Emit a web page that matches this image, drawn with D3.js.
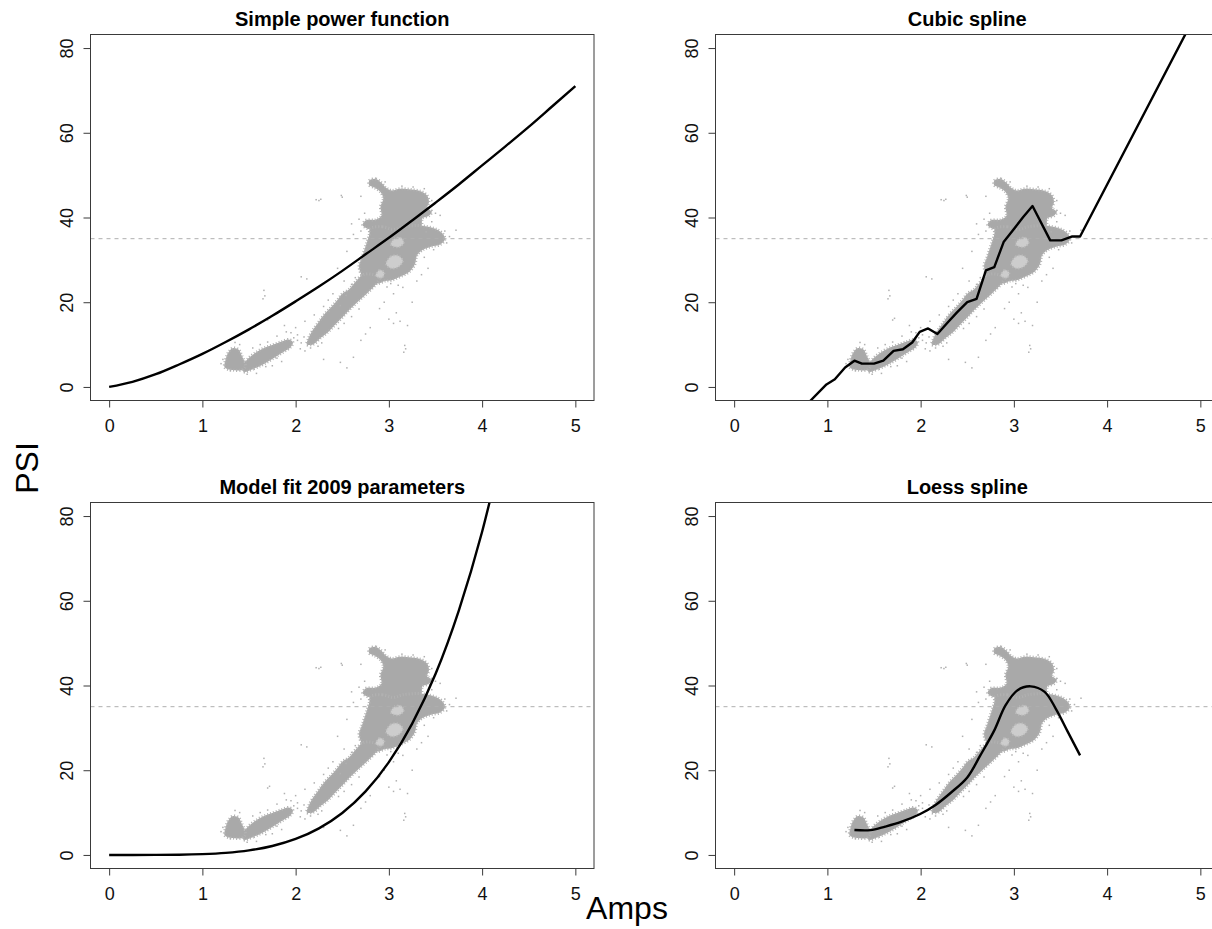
<!DOCTYPE html>
<html><head><meta charset="utf-8">
<script src="https://cdn.jsdelivr.net/npm/d3@7"></script>
<style>
body{margin:0;background:#fff}
svg{display:block}
text{font-family:"Liberation Sans",Arial,Helvetica,sans-serif}
</style>
</head><body>
<svg id="chart" width="1212" height="929"></svg>
<script>
// ---------- data ----------
const panelTitles = ["Simple power function","Cubic spline","Model fit 2009 parameters","Loess spline"];
const xTicks = [0,1,2,3,4,5];
const yTicks = [0,20,40,60,80];
const xLabel = "Amps";
const yLabel = "PSI";
const thresholdPsi = 35;

// fitted curves (Amps, PSI)
const powerAmps = [0,0.25,0.5,0.75,1,1.25,1.5,1.75,2,2.25,2.5,2.75,3,3.25,3.5,3.75,4,4.25,4.5,4.75,5];
const powerPsi  = [0,1.2,3.0,5.3,7.8,10.6,13.6,16.8,20.2,23.7,27.4,31.3,35.2,39.3,43.5,47.8,52.3,56.8,61.4,66.2,71.0];

const splineAmps = [0.75,0.82,0.99,1.08,1.19,1.29,1.37,1.50,1.60,1.71,1.81,1.91,1.99,2.08,2.18,2.29,2.39,2.50,2.60,2.70,2.79,2.89,2.99,3.10,3.20,3.39,3.51,3.62,3.71,5.2];
const splinePsi  = [-4.8,-3.2,0.6,1.8,4.6,6.2,5.5,5.5,6.2,8.5,8.9,10.5,13.0,13.8,12.5,15.2,17.6,20.0,20.8,27.5,28.3,34.2,37.0,40.1,42.7,34.6,34.6,35.5,35.5,98.5];

const modelAmps = [0,0.25,0.5,0.75,1,1.25,1.5,1.75,2,2.25,2.5,2.75,3,3.25,3.5,3.75,4,4.25];
const modelPsi  = [0,0,0.01,0.05,0.19,0.49,1.08,2.11,3.77,6.28,9.9,15.0,21.9,31.0,42.7,57.7,76.3,99.2];

const loessAmps = [1.29,1.46,1.62,1.79,1.99,2.16,2.33,2.50,2.64,2.79,2.91,3.04,3.18,3.33,3.45,3.58,3.71];
const loessPsi  = [5.9,5.85,6.7,7.8,9.6,11.8,14.8,18.3,23.5,29.4,35.3,38.9,39.8,38.5,34.5,29.0,23.5];

// observation cloud outlines (Amps, PSI)
const cloudCore = [[2.79,48.7],[2.86,49.1],[2.92,48.2],[2.97,47.0],[3.03,46.4],[3.12,46.8],[3.24,46.6],[3.34,46.2],[3.41,45.2],[3.43,43.6],[3.41,42.2],[3.46,41.4],[3.43,40.4],[3.36,39.8],[3.35,38.2],[3.30,37.0],[3.10,36.5],[2.98,36.8],[2.92,37.6],[2.80,37.2],[2.72,38.2],[2.75,39.3],[2.86,39.5],[2.92,40.4],[2.91,42.5],[2.94,44.5],[2.91,46.0],[2.85,47.0],[2.79,47.6]];
const cloudBody = [[2.80,37.4],[2.93,37.8],[3.05,37.2],[3.15,37.8],[3.30,38.1],[3.42,37.8],[3.52,37.1],[3.58,36.1],[3.60,34.8],[3.55,33.6],[3.45,33.1],[3.36,32.3],[3.30,31.0],[3.28,29.0],[3.22,27.2],[3.12,26.0],[3.03,25.2],[2.96,25.0],[2.88,24.4],[2.80,24.8],[2.72,26.0],[2.68,28.5],[2.71,30.5],[2.74,32.5],[2.77,34.5],[2.79,36.0]];
const cloudHoles = [[[2.97,29.0],[3.02,30.8],[3.10,31.0],[3.15,29.8],[3.10,28.3],[3.02,28.0]],[[3.02,33.6],[3.06,35.0],[3.13,35.2],[3.16,34.0],[3.10,33.0]],[[2.86,26.2],[2.90,27.6],[2.95,27.0],[2.93,25.8]]];
const cloudBand = [[2.72,26.5],[2.64,24.8],[2.57,23.0],[2.50,22.0],[2.44,20.3],[2.38,18.8],[2.31,17.2],[2.25,15.4],[2.19,13.6],[2.14,11.6],[2.12,10.0],[2.19,10.1],[2.27,11.6],[2.35,13.0],[2.42,14.6],[2.50,16.4],[2.58,18.3],[2.67,20.2],[2.77,22.2],[2.86,24.2],[2.90,25.8],[2.82,26.6]];
const cloudClusterA = [[1.44,3.6],[1.55,4.3],[1.65,5.3],[1.75,6.6],[1.85,8.0],[1.95,9.5],[1.97,10.6],[1.92,11.2],[1.85,10.7],[1.75,9.9],[1.65,9.1],[1.57,8.1],[1.50,6.9],[1.45,5.5]];
const cloudClusterB = [[1.24,4.6],[1.25,6.5],[1.28,8.2],[1.33,9.2],[1.39,8.8],[1.42,7.5],[1.45,6.0],[1.46,4.8],[1.42,4.0],[1.32,4.0]];
const cloudSpecks = [[2.22,44.2],[2.25,44.0],[2.27,44.3],[2.50,44.8],[2.49,45.2],[2.06,26.0],[2.12,25.5],[1.66,22.8],[1.67,21.5],[1.65,20.8],[1.70,15.8],[1.72,16.2],[1.88,14.5],[1.95,12.8],[2.02,12.3],[2.05,9.0],[2.10,8.5],[2.55,4.5],[2.48,5.8],[2.30,6.5],[2.62,7.0],[2.70,11.0],[2.75,12.5],[2.80,14.0],[3.00,16.0],[3.05,15.0],[3.12,15.5],[3.08,17.5],[3.18,9.0],[3.16,8.2],[3.17,9.8],[3.20,14.5],[3.25,20.0],[3.30,25.0],[3.35,26.5],[3.42,28.0],[3.60,36.8],[3.65,35.5],[3.72,37.0],[3.50,41.0],[3.55,40.5],[3.46,44.0],[3.38,46.8],[2.70,45.0],[2.60,38.5],[2.62,36.0],[2.55,32.0],[2.45,28.0],[2.52,25.0],[2.40,22.0],[2.35,20.5],[2.30,19.0],[2.20,17.0],[2.10,15.5],[2.00,14.0],[1.90,13.0],[1.80,12.0],[1.40,10.0],[1.35,10.5],[1.20,5.5],[1.22,6.5],[1.58,3.2],[1.75,5.0],[1.85,6.0],[2.95,20.0],[3.05,22.0],[3.10,24.0],[3.15,23.5],[2.90,18.5],[2.02,11.0],[2.06,10.4],[2.09,11.8],[1.98,11.6],[2.16,9.2],[2.24,9.6],[2.28,10.4],[2.46,13.8],[2.52,15.0],[2.60,16.6],[2.68,18.4],[2.64,25.8],[2.60,24.2],[2.54,21.6],[2.48,19.2],[2.36,17.8],[2.28,16.2],[2.98,23.6],[3.02,24.4],[3.38,30.6],[3.48,32.4],[3.40,36.6],[3.62,34.0],[3.46,39.0],[2.68,39.6],[2.70,36.8],[2.74,41.0],[3.26,47.2],[3.14,47.4],[2.96,48.4],[1.62,10.0],[1.54,9.2],[1.70,10.6],[1.30,3.8],[1.48,3.0],[1.80,6.8],[1.68,4.8]];

// ---------- layout ----------
const svg = d3.select("#chart");
const boxLefts = [90.5, 715.5];
const boxTops = [34.5, 502.5];
const boxW = 503.5, boxH = 366;
const curves = [
  {amps: powerAmps, psi: powerPsi, curve: d3.curveMonotoneX},
  {amps: splineAmps, psi: splinePsi, curve: d3.curveLinear},
  {amps: modelAmps, psi: modelPsi, curve: d3.curveMonotoneX},
  {amps: loessAmps, psi: loessPsi, curve: d3.curveCatmullRom}
];
const clouds = [cloudCore, cloudBody, cloudBand, cloudClusterA, cloudClusterB];

const x = d3.scaleLinear().domain([-0.2, 5.2]).range([0, boxW]);
const y = d3.scaleLinear().domain([-3.2, 83.2]).range([boxH, 0]);
const font = '"Liberation Sans",Arial,sans-serif';

panelTitles.forEach((title, i) => {
  const col = i % 2, row = Math.floor(i / 2);
  const g = svg.append("g").attr("transform", `translate(${boxLefts[col]},${boxTops[row]})`);
  const clipId = "clip" + i;
  g.append("clipPath").attr("id", clipId).append("rect")
    .attr("x", 0).attr("y", 0).attr("width", boxW).attr("height", boxH);
  const inner = g.append("g").attr("clip-path", `url(#${clipId})`);

  // cloud of observations
  const area = d3.line().x(d => x(d[0])).y(d => y(d[1])).curve(d3.curveCatmullRomClosed);
  clouds.forEach(poly => {
    inner.append("path").attr("d", area(poly))
      .attr("fill", "#a9a9a9").attr("stroke", "#b2b2b2").attr("stroke-width", 3)
      .attr("stroke-dasharray", "1,2");
  });
  cloudHoles.forEach(poly => {
    inner.append("path").attr("d", area(poly))
      .attr("fill", "#cdcdcd").attr("stroke", "#bbbbbb").attr("stroke-width", 2)
      .attr("stroke-dasharray", "1,2");
  });
  inner.selectAll("rect.speck").data(cloudSpecks).join("rect").attr("class","speck")
    .attr("x", d => x(d[0]) - 0.75).attr("y", d => y(d[1]) - 0.75)
    .attr("width", 1.5).attr("height", 1.5).attr("fill", "#b0b0b0");

  // threshold
  inner.append("line").attr("x1", 0).attr("x2", boxW)
    .attr("y1", y(thresholdPsi)).attr("y2", y(thresholdPsi))
    .attr("stroke", "#b0b0b0").attr("stroke-width", 1).attr("stroke-dasharray", "4,4");

  // fitted curve
  const c = curves[i];
  const pts = c.amps.map((a, k) => [a, c.psi[k]]);
  inner.append("path").attr("d", d3.line().x(d => x(d[0])).y(d => y(d[1])).curve(c.curve)(pts))
    .attr("fill", "none").attr("stroke", "#000").attr("stroke-width", 2.4)
    .attr("stroke-linejoin", "round");

  // box
  g.append("rect").attr("x", 0).attr("y", 0).attr("width", boxW).attr("height", boxH)
    .attr("fill", "none").attr("stroke", "#3a3a3a").attr("stroke-width", 1);

  // x axis
  const ax = g.append("g").attr("transform", `translate(0,${boxH})`)
    .call(d3.axisBottom(x).tickValues(xTicks).tickFormat(d3.format("d")).tickSize(7).tickPadding(12));
  ax.attr("font-size", 18).attr("font-family", font);
  ax.select(".domain").remove();
  ax.selectAll("line").attr("stroke", "#3a3a3a");
  ax.selectAll("text").attr("fill", "#111");

  // y axis
  const ay = g.append("g").call(d3.axisLeft(y).tickValues(yTicks).tickFormat(d3.format("d")).tickSize(7));
  ay.attr("font-size", 18).attr("font-family", font);
  ay.select(".domain").remove();
  ay.selectAll("line").attr("stroke", "#3a3a3a");
  ay.selectAll("text").attr("x", null).attr("dy", null).attr("text-anchor", "middle")
    .attr("transform", "translate(-17.5,0) rotate(-90)").attr("fill", "#111");

  // title
  g.append("text").attr("x", boxW / 2).attr("y", -9).attr("text-anchor", "middle")
    .attr("font-size", 20).attr("font-weight", "bold").attr("fill", "#000").text(title);
});

// shared axis labels
svg.append("text").attr("x", 627).attr("y", 919).attr("text-anchor", "middle")
  .attr("font-size", 32).attr("fill", "#000").text(xLabel);
svg.append("text").attr("transform", "translate(38,468) rotate(-90)").attr("text-anchor", "middle")
  .attr("font-size", 32).attr("fill", "#000").text(yLabel);
</script>
</body></html>
